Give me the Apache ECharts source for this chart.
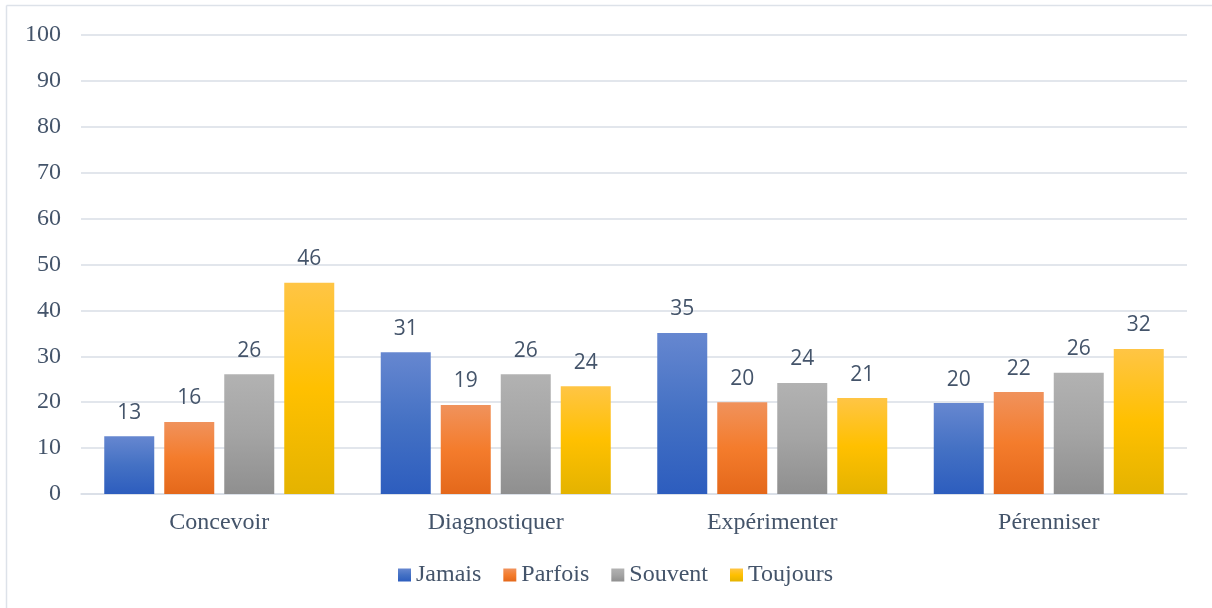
<!DOCTYPE html>
<html><head><meta charset="utf-8">
<script src="https://cdn.jsdelivr.net/npm/echarts@6/dist/echarts.min.js"></script>
<style>html,body{margin:0;padding:0;background:#fff}#c{width:1212px;height:608px}</style>
</head><body><div id="c"></div>
<script>
const categories = ['Concevoir', 'Diagnostiquer', 'Expérimenter', 'Pérenniser'];
const seriesNames = ['Jamais', 'Parfois', 'Souvent', 'Toujours'];
const jamais = [12.6, 30.9, 35.1, 19.8];
const parfois = [15.7, 19.4, 20.0, 22.2];
const souvent = [26.1, 26.1, 24.2, 26.4];
const toujours = [46.0, 23.5, 20.9, 31.6];
const yTicks = [0, 10, 20, 30, 40, 50, 60, 70, 80, 90, 100];

const values = [jamais, parfois, souvent, toujours];
const grads = [
  ['#6687D0', '#4471C4', '#2D5DBE'],
  ['#F0925C', '#F47C2C', '#E4681B'],
  ['#B2B2B2', '#A4A4A4', '#8F8F8F'],
  ['#FFC545', '#FFC000', '#E4B300']
];
const textColor = '#44546A';
const serif = '"Liberation Serif", "Times New Roman", serif';
const chart = echarts.init(document.getElementById('c'));
chart.setOption({
  animation: false,
  textStyle: {fontFamily: serif},
  graphic: [
    {type: 'line', shape: {x1: 6.5, y1: 5.5, x2: 6.5, y2: 608}, style: {stroke: '#DDE2E9', lineWidth: 1.5}},
    {type: 'line', shape: {x1: 6.5, y1: 5.5, x2: 1212, y2: 5.5}, style: {stroke: '#DDE2E9', lineWidth: 1.5}}
  ],
  grid: {left: 81, right: 25, top: 35, bottom: 114, containLabel: false},
  legend: {
    data: seriesNames,
    top: 558,
    left: 393,
    padding: 5,
    icon: 'rect',
    itemWidth: 13, itemHeight: 13, itemGap: 22,
    textStyle: {fontFamily: serif, fontSize: 24, color: textColor}
  },
  xAxis: {
    type: 'category',
    data: categories,
    axisLine: {lineStyle: {color: '#D9DEE6', width: 1.5}},
    axisTick: {show: false},
    axisLabel: {fontFamily: serif, fontSize: 24, color: textColor, margin: 17}
  },
  yAxis: {
    type: 'value', min: yTicks[0], max: yTicks[yTicks.length - 1], interval: 10,
    axisLine: {show: false}, axisTick: {show: false},
    splitLine: {lineStyle: {color: '#D9DEE6', width: 1.5}},
    axisLabel: {fontFamily: serif, fontSize: 24, color: textColor, margin: 20}
  },
  series: seriesNames.map((n, i) => ({
    name: n, type: 'bar', data: values[i], barWidth: 50, barGap: '20%',
    itemStyle: {color: new echarts.graphic.LinearGradient(0, 0, 0, 1, [
      {offset: 0, color: grads[i][0]}, {offset: 0.5, color: grads[i][1]}, {offset: 1, color: grads[i][2]}])},
    label: {show: true, position: 'top', distance: 13, fontFamily: 'Open Sans', fontSize: 21, color: textColor,
      formatter: p => Math.round(p.value)}
  }))
});
</script></body></html>
